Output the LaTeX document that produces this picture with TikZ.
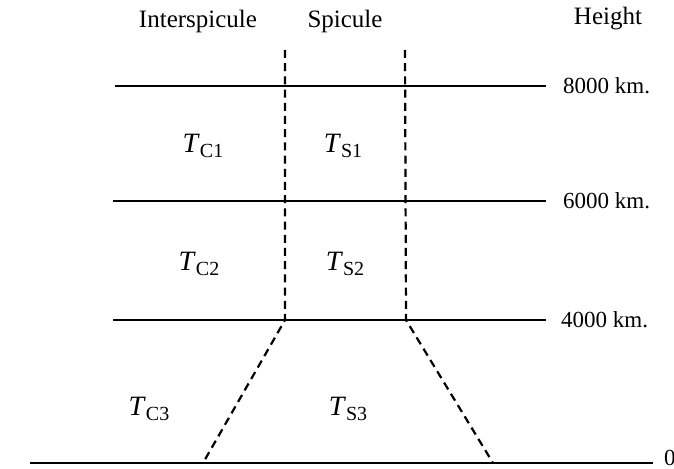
\documentclass[tikz,border=0pt]{standalone}
\usepackage{fontspec}
\setmainfont{Liberation Serif}
\newcommand{\tmp}[1]{\textit{T}\raisebox{-0.45ex}{\fontsize{10}{10}\selectfont #1}}

\begin{document}
\begin{tikzpicture}[
  x=0.5pt, y=-0.5pt,
  level/.style  = {line width=1.1pt},
  bound/.style  = {line width=1.1pt, dash pattern=on 4pt off 2.6pt},
  head/.style   = {font=\fontsize{12.5}{15}\selectfont},
  km/.style     = {anchor=west, inner sep=1pt, font=\fontsize{11.5}{13}\selectfont},
  region/.style = {font=\fontsize{14}{16}\selectfont},
]
  \useasboundingbox (0,0) rectangle (674,469);

  % column heads
  \node[head] (inter) at (198,21) {Interspicule};
  \node[head] (spic)  at (345,21) {Spicule};
  \node[head] (hgt)   at (608,19) {Height};

  % ends of the height levels
  \coordinate (a8) at (115,86);  \coordinate (b8) at (546,86);
  \coordinate (a6) at (113,201); \coordinate (b6) at (546,201);
  \coordinate (a4) at (113,320); \coordinate (b4) at (546,320);
  \coordinate (a0) at (30,463);  \coordinate (b0) at (653,463);

  \draw[level] (a8) -- (b8) node[km, xshift=7pt] (h8) {8000 km.};
  \draw[level] (a6) -- (b6) node[km, xshift=7pt] (h6) {6000 km.};
  \draw[level] (a4) -- (b4) node[km, xshift=6pt] (h4) {4000 km.};
  \draw[level] (a0) -- (b0) node[km, xshift=4pt, yshift=2.5pt] (h0) {0};

  % spicule boundary: straight above 4000 km, widening to the base
  \coordinate (lt) at (285,50);  \coordinate (rt) at (405,50);
  \coordinate (lm) at (285,320); \coordinate (rm) at (406,320);
  \coordinate (lb) at (203,463); \coordinate (rb) at (493,463);
  \draw[bound] (lt) -- (lm) -- (lb);
  \draw[bound] (rt) -- (rm) -- (rb);

  % temperatures
  \node[region] (tc1) at (203,146) {\tmp{C1}};
  \node[region] (ts1) at (343,146) {\tmp{S1}};
  \node[region] (tc2) at (199,264) {\tmp{C2}};
  \node[region] (ts2) at (345,264) {\tmp{S2}};
  \node[region] (tc3) at (149,409) {\tmp{C3}};
  \node[region] (ts3) at (348,409) {\tmp{S3}};
\end{tikzpicture}
\end{document}
